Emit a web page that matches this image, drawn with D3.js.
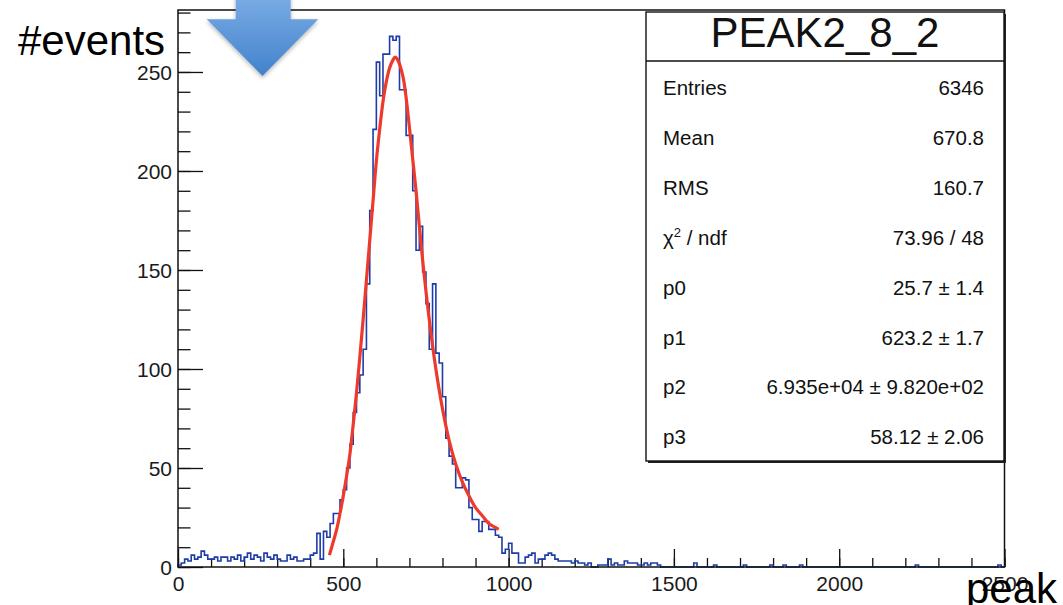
<!DOCTYPE html>
<html>
<head>
<meta charset="utf-8">
<script src="https://cdn.jsdelivr.net/npm/d3@7"></script>
<style>
  html, body { margin: 0; padding: 0; background: #fff; }
  svg text { font-family: "Liberation Sans", Arial, Helvetica, sans-serif; }
</style>
</head>
<body>
<div id="chart"></div>
<script>
// histogram: 250 bins of width 10 over [0, 2500]
const binWidth = 10
const counts = [
  1, 2, 4, 3, 6, 4, 5, 8, 6, 4,
  4, 5, 3, 5, 5, 3, 5, 4, 6, 3,
  5, 7, 4, 6, 5, 3, 7, 5, 4, 6,
  4, 3, 3, 6, 4, 5, 3, 3, 4, 4,
  6, 7, 17, 4, 18, 15, 22, 27, 27, 34,
  39, 50, 62, 78, 88, 97, 110, 143, 180, 221,
  255, 238, 259, 259, 268, 266, 268, 241, 241, 218,
  218, 190, 160, 172, 149, 133, 110, 143, 108, 103,
  86, 65, 56, 52, 40, 40, 45, 44, 30, 24,
  24, 18, 23, 23, 19, 19, 16, 15, 7, 9,
  12, 7, 7, 2, 2, 5, 6, 7, 2, 4,
  4, 6, 7, 6, 4, 3, 3, 3, 3, 2,
  3, 2, 2, 1, 2, 0, 0, 1, 1, 1,
  4, 1, 2, 1, 1, 3, 2, 2, 2, 1,
  1, 2, 1, 2, 2, 1, 0, 0, 0, 0,
  0, 0, 0, 0, 0, 0, 2, 0, 0, 0,
  0, 0, 1, 0, 0, 0, 0, 0, 0, 0,
  0, 1, 0, 0, 0, 0, 0, 0, 0, 1,
  0, 0, 0, 1, 0, 0, 0, 0, 1, 0,
  0, 0, 0, 0, 0, 0, 0, 0, 0, 0,
  0, 0, 0, 0, 0, 0, 0, 0, 0, 0,
  0, 0, 0, 0, 0, 0, 0, 0, 0, 0,
  0, 0, 0, 1, 0, 0, 0, 0, 0, 0,
  0, 0, 0, 0, 0, 0, 0, 0, 0, 0,
  0, 0, 0, 0, 0, 0, 0, 0, 1, 0
]

// fit curve
const fitX = [458, 470, 480, 490, 500, 510, 520, 530, 540, 550, 560, 570, 580, 590, 600, 610, 620, 630, 640, 650, 657, 665, 680, 690, 700, 710, 720, 740, 760, 780, 800, 820, 840, 860, 880, 900, 920, 940, 960, 970]
const fitY = [6, 13, 19, 27, 36, 46, 57, 72, 88, 106, 125, 145, 165, 185, 205, 221, 235, 245, 252, 256, 257.5, 256, 248, 237, 222, 206, 190, 155, 125, 100, 80, 64, 52, 43, 36, 30, 26, 22, 20, 19]

const xMajor = [0, 500, 1000, 1500, 2000, 2500]
const yMajor = [0, 50, 100, 150, 200, 250]

const statsTitle = 'PEAK2_8_2'
const statsLabels = ['Entries', 'Mean', 'RMS', 'chi2', 'p0', 'p1', 'p2', 'p3']
const statsValues = ['6346', '670.8', '160.7', '73.96 / 48', '25.7 \u00b1 1.4', '623.2 \u00b1 1.7',
  '6.935e+04 \u00b1 9.820e+02', '58.12 \u00b1 2.06']

const svgWidth = 1063
const svgHeight = 605
const frame = {left: 178, top: 10, right: 1004.5, bottom: 567}

let svg = d3.select('#chart')
  .append('svg')
  .attr('width', svgWidth)
  .attr('height', svgHeight)

let xScale = d3.scaleLinear()
  .domain([0, 2500])
  .range([frame.left, frame.right])

let yScale = d3.scaleLinear()
  .domain([0, 281.3])
  .range([frame.bottom, frame.top])

// minor ticks
svg.append('g')
  .attr('transform', 'translate(0,' + frame.bottom + ')')
  .call(d3.axisBottom(xScale).tickValues(d3.range(0, 2501, 100)).tickSizeInner(-9).tickSizeOuter(0).tickFormat(''))
svg.append('g')
  .attr('transform', 'translate(' + frame.left + ',0)')
  .call(d3.axisLeft(yScale).tickValues(d3.range(0, 281, 10)).tickSizeInner(-12.5).tickSizeOuter(0).tickFormat(''))

// major ticks + labels
let xAxis = svg.append('g')
  .attr('class', 'axis axis--x')
  .attr('transform', 'translate(0,' + frame.bottom + ')')
  .call(d3.axisBottom(xScale).tickValues(xMajor).tickSizeInner(-18).tickSizeOuter(0).tickPadding(9).tickFormat(d3.format('d')))

let yAxis = svg.append('g')
  .attr('class', 'axis axis--y')
  .attr('transform', 'translate(' + frame.left + ',0)')
  .call(d3.axisLeft(yScale).tickValues(yMajor).tickSizeInner(-25).tickSizeOuter(0).tickPadding(6).tickFormat(d3.format('d')))

svg.selectAll('.domain').remove()
svg.selectAll('.tick line').attr('stroke', '#111').attr('stroke-width', 1.3)
svg.selectAll('.axis text')
  .attr('font-family', '"Liberation Sans", Arial, sans-serif')
  .attr('font-size', 21)
  .attr('fill', '#1a1a1a')
yAxis.selectAll('text').attr('dy', '0.36em')

// histogram outline
let pts = [[0, 0]]
counts.forEach((c, i) => {
  pts.push([i * binWidth, c])
  pts.push([(i + 1) * binWidth, c])
})
pts.push([counts.length * binWidth, 0])

svg.append('path')
  .attr('class', 'hist')
  .attr('d', d3.line().x(d => xScale(d[0])).y(d => yScale(d[1]))(pts))
  .attr('fill', 'none')
  .attr('stroke', '#1d3ca8')
  .attr('stroke-width', 1.6)

// fit
svg.append('path')
  .attr('d', d3.line().curve(d3.curveCatmullRom).x(d => xScale(d[0])).y(d => yScale(d[1]))(fitX.map((x, i) => [x, fitY[i]])))
  .attr('fill', 'none')
  .attr('stroke', '#ee3a2c')
  .attr('stroke-width', 3.2)
  .attr('stroke-linejoin', 'round')

// frame
svg.append('rect')
  .attr('x', frame.left)
  .attr('y', frame.top)
  .attr('width', frame.right - frame.left)
  .attr('height', frame.bottom - frame.top)
  .attr('fill', 'none')
  .attr('stroke', '#111')
  .attr('stroke-width', 1.5)

// stats box
const box = {x: 646, y: 12, w: 358, h: 449, titleH: 49}
let stats = svg.append('g')
stats.append('rect')
  .attr('x', box.x + 2).attr('y', box.y + 2)
  .attr('width', box.w).attr('height', box.h)
  .attr('fill', '#222')
stats.append('rect')
  .attr('x', box.x).attr('y', box.y)
  .attr('width', box.w).attr('height', box.h)
  .attr('fill', '#fff')
  .attr('stroke', '#111')
  .attr('stroke-width', 1.4)
stats.append('line')
  .attr('x1', box.x).attr('x2', box.x + box.w)
  .attr('y1', box.y + box.titleH).attr('y2', box.y + box.titleH)
  .attr('stroke', '#111')
  .attr('stroke-width', 1.4)
stats.append('text')
  .attr('x', box.x + box.w / 2)
  .attr('y', 47)
  .attr('text-anchor', 'middle')
  .attr('font-size', 42)
  .attr('fill', '#111')
  .text(statsTitle)

statsLabels.forEach((lab, i) => {
  let yy = 95 + i * 49.9
  let t = stats.append('text')
    .attr('x', 663)
    .attr('y', yy)
    .attr('font-size', 20.5)
    .attr('fill', '#111')
  if (lab === 'chi2') {
    t.append('tspan').text('\u03c7')
    t.append('tspan').attr('font-size', 13).attr('dy', -8).text('2')
    t.append('tspan').attr('dy', 8).text(' / ndf')
  } else {
    t.text(lab)
  }
  stats.append('text')
    .attr('x', 984)
    .attr('y', yy)
    .attr('text-anchor', 'end')
    .attr('font-size', 20.5)
    .attr('fill', '#111')
    .text(statsValues[i])
})

// blue arrow
let defs = svg.append('defs')
let grad = defs.append('linearGradient')
  .attr('id', 'arrowGrad')
  .attr('x1', 0).attr('y1', 0).attr('x2', 0).attr('y2', 1)
grad.append('stop').attr('offset', '0%').attr('stop-color', '#7badE6')
grad.append('stop').attr('offset', '100%').attr('stop-color', '#4282cb')
let shadow = defs.append('filter')
  .attr('id', 'arrowShadow')
  .attr('x', '-20%').attr('y', '-20%').attr('width', '140%').attr('height', '140%')
shadow.append('feDropShadow')
  .attr('dx', 0).attr('dy', 2).attr('stdDeviation', 2)
  .attr('flood-color', '#000').attr('flood-opacity', 0.3)

svg.append('path')
  .attr('d', 'M235.7,-6 L235.7,19.3 L206.7,19.3 L262.5,76 L318.3,19.3 L290.7,19.3 L290.7,-6 Z')
  .attr('fill', 'url(#arrowGrad)')
  .attr('filter', 'url(#arrowShadow)')

// slide axis titles
svg.append('text')
  .attr('x', 18)
  .attr('y', 55)
  .attr('font-size', 42)
  .attr('fill', '#000')
  .text('#events')

svg.append('text')
  .attr('x', 966)
  .attr('y', 603)
  .attr('font-size', 42)
  .attr('fill', '#000')
  .text('peak')
</script>
</body>
</html>
